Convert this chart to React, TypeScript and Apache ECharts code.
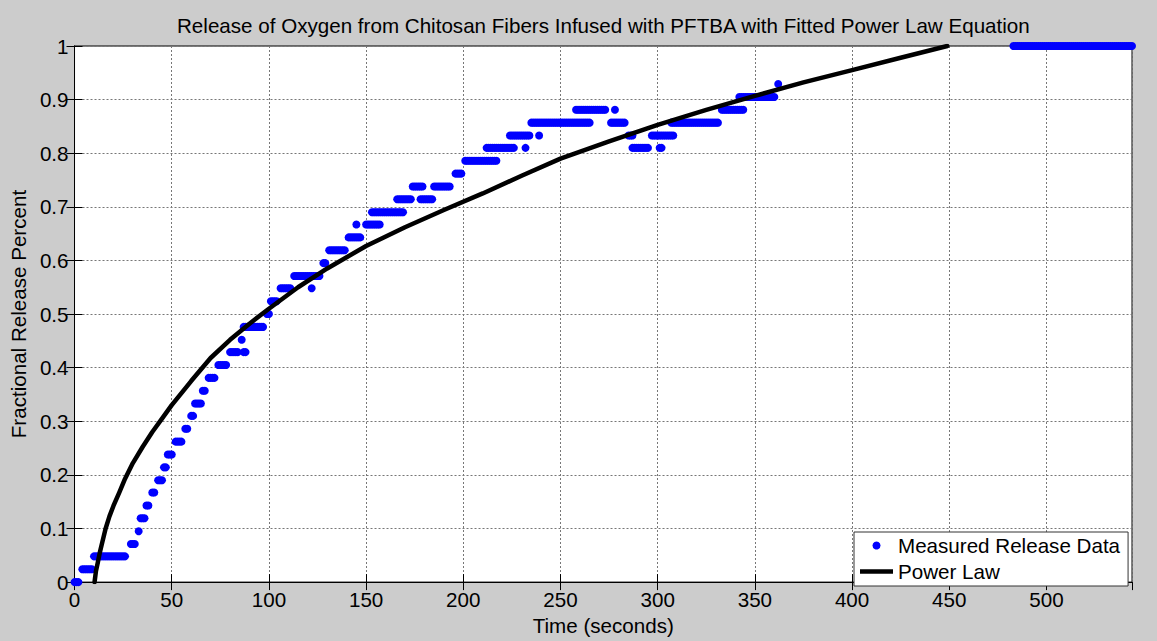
import React, { useEffect, useRef } from "react";
import * as echarts from "echarts";

const FONT = "'Liberation Sans', Arial, Helvetica, sans-serif";
const FS = 20.6;

const chartTitle =
  "Release of Oxygen from Chitosan Fibers Infused with PFTBA with Fitted Power Law Equation";
const xAxisName = "Time (seconds)";
const yAxisName = "Fractional Release Percent";
const seriesNames = ["Measured Release Data", "Power Law"];

// Measured data: runs of consecutive one-second samples [start s, end s, value]
const measuredRuns: [number, number, number][] = [
  [0, 2, 0.0],
  [4, 9, 0.024],
  [10, 26, 0.048],
  [29, 31, 0.071],
  [33, 33, 0.095],
  [34, 36, 0.119],
  [37, 38, 0.143],
  [40, 41, 0.167],
  [43, 45, 0.19],
  [46, 47, 0.214],
  [48, 50, 0.238],
  [52, 55, 0.262],
  [57, 58, 0.286],
  [60, 61, 0.31],
  [62, 65, 0.333],
  [66, 67, 0.357],
  [69, 72, 0.381],
  [74, 78, 0.405],
  [80, 84, 0.429],
  [86, 86, 0.452],
  [87, 88, 0.429],
  [87, 97, 0.476],
  [99, 100, 0.5],
  [101, 104, 0.524],
  [106, 111, 0.548],
  [122, 122, 0.548],
  [113, 126, 0.571],
  [128, 129, 0.595],
  [131, 139, 0.619],
  [141, 147, 0.643],
  [145, 145, 0.667],
  [150, 157, 0.667],
  [153, 169, 0.69],
  [166, 173, 0.714],
  [178, 184, 0.714],
  [174, 179, 0.738],
  [185, 193, 0.738],
  [196, 199, 0.762],
  [201, 217, 0.786],
  [212, 226, 0.81],
  [232, 232, 0.81],
  [224, 234, 0.833],
  [239, 239, 0.833],
  [235, 265, 0.857],
  [258, 273, 0.881],
  [278, 278, 0.881],
  [276, 283, 0.857],
  [285, 287, 0.833],
  [287, 295, 0.81],
  [301, 302, 0.81],
  [297, 308, 0.833],
  [307, 331, 0.857],
  [333, 344, 0.881],
  [342, 360, 0.905],
  [362, 362, 0.929],
  [483, 544, 1.0],
];

// Fitted power-law curve
const fitTime = [10.3, 11, 12, 13, 14, 16, 18, 20, 23, 26, 30, 35, 40, 45, 50, 60, 70, 80, 90, 100, 115, 130, 150, 170, 190, 210, 230, 250, 275, 300, 325, 350, 375, 400, 425, 449];
const fitValue = [0, 0.02, 0.037, 0.055, 0.07, 0.1, 0.123, 0.142, 0.167, 0.193, 0.222, 0.252, 0.28, 0.305, 0.33, 0.375, 0.418, 0.452, 0.482, 0.51, 0.55, 0.585, 0.627, 0.662, 0.694, 0.725, 0.758, 0.79, 0.822, 0.853, 0.881, 0.907, 0.932, 0.955, 0.978, 1.0];

const xMax = 544;

export default function App() {
  const ref = useRef<HTMLDivElement>(null);
  useEffect(() => {
    if (!ref.current) return;
    const chart = echarts.init(ref.current, null, { renderer: "svg" });
    const measuredPoints: number[][] = [];
    measuredRuns.forEach(([s, e, v]) => {
      for (let t = s; t <= e; t += 1) measuredPoints.push([t, v]);
    });
    const fitPoints = fitTime.map((t, i) => [t, fitValue[i]]);

    const labelStyle = { fontSize: FS, color: "#000", fontFamily: FONT };
    const tickStyle = { show: true, inside: true, length: 8, lineStyle: { color: "#000" } };
    const gridLine = { show: true, lineStyle: { type: [2, 2], color: "#777", width: 1 } };
    chart.setOption({
      animation: false,
      backgroundColor: "#cccccc",
      textStyle: { fontFamily: FONT },
      title: {
        text: chartTitle,
        left: 172,
        top: 10,
        textStyle: { fontSize: FS, fontWeight: "normal", color: "#000", fontFamily: FONT },
      },
      grid: {
        left: 71,
        right: 25,
        top: 46,
        bottom: 51,
        show: true,
        backgroundColor: "#ffffff",
        borderColor: "#000",
        borderWidth: 1,
      },
      legend: {
        left: 854,
        top: 532,
        orient: "vertical",
        backgroundColor: "#ffffff",
        borderColor: "#333",
        borderWidth: 1,
        borderRadius: 0,
        padding: [3, 8, 4, 6],
        itemWidth: 33,
        itemHeight: 8,
        itemGap: 5,
        textStyle: { fontSize: FS, color: "#000", fontFamily: FONT, lineHeight: 20 },
        data: [
          { name: seriesNames[0], icon: "circle", itemStyle: { color: "#0000ff" } },
          { name: seriesNames[1], icon: "path://M0,0 H66 V9 H0 Z", itemStyle: { color: "#000" } },
        ],
      },
      xAxis: [
        {
          type: "value",
          min: 0,
          max: xMax,
          interval: 50,
          position: "bottom",
          name: xAxisName,
          nameLocation: "middle",
          nameGap: 27,
          nameTextStyle: labelStyle,
          axisLine: { show: true, lineStyle: { color: "#000", width: 1 } },
          axisTick: tickStyle,
          axisLabel: { ...labelStyle, margin: 7, showMaxLabel: false },
          splitLine: gridLine,
        },
        {
          type: "value",
          min: 0,
          max: xMax,
          interval: 50,
          position: "top",
          axisLine: { show: true, lineStyle: { color: "#000", width: 1 } },
          axisTick: tickStyle,
          axisLabel: { show: false },
          splitLine: { show: false },
        },
      ],
      yAxis: [
        {
          type: "value",
          min: 0,
          max: 1,
          interval: 0.1,
          position: "left",
          name: yAxisName,
          nameLocation: "middle",
          nameGap: 41,
          nameTextStyle: labelStyle,
          axisLine: { show: true, lineStyle: { color: "#000", width: 1 } },
          axisTick: tickStyle,
          axisLabel: { ...labelStyle, margin: 6 },
          splitLine: gridLine,
        },
        {
          type: "value",
          min: 0,
          max: 1,
          interval: 0.1,
          position: "right",
          axisLine: { show: true, lineStyle: { color: "#000", width: 1 } },
          axisTick: tickStyle,
          axisLabel: { show: false },
          splitLine: { show: false },
        },
      ],
      series: [
        {
          type: "scatter",
          name: seriesNames[0],
          xAxisIndex: 0,
          yAxisIndex: 0,
          data: measuredPoints,
          symbol: "circle",
          symbolSize: 8,
          itemStyle: { color: "#0000ff", opacity: 1 },
        },
        {
          type: "line",
          name: seriesNames[1],
          xAxisIndex: 0,
          yAxisIndex: 0,
          data: fitPoints,
          symbol: "none",
          showSymbol: false,
          smooth: false,
          lineStyle: { color: "#000", width: 4.5, cap: "round", join: "round" },
          itemStyle: { color: "#000" },
        },
      ],
    });
    return () => chart.dispose();
  }, []);
  return (
    <div
      ref={ref}
      style={{ position: "fixed", left: 0, top: 0, width: 1157, height: 641 }}
    />
  );
}
